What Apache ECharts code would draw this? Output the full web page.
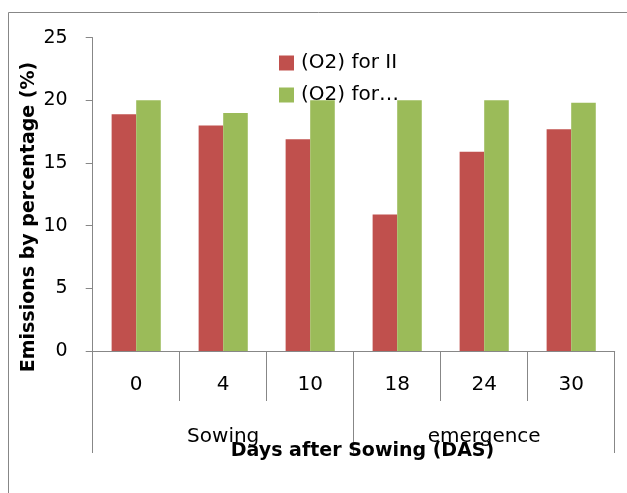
<!DOCTYPE html>
<html>
<head>
<meta charset="utf-8">
<script src="https://cdn.jsdelivr.net/npm/echarts@6/dist/echarts.min.js"></script>
<style>
html,body{margin:0;padding:0;background:#fff;}
#c{width:627px;height:493px;}
</style>
</head>
<body>
<div id="c"></div>
<script>
var categories = ['0', '4', '10', '18', '24', '30'];
var groups = ['Sowing', 'emergence'];
var seriesNames = ['(O2) for II', '(O2) for\u2026'];
var redValues = [18.9, 18.0, 16.9, 10.9, 15.9, 17.7];
var greenValues = [20.0, 19.0, 20.0, 20.0, 20.0, 19.8];
var yTicks = [0, 5, 10, 15, 20, 25];

var FONT = 'DejaVu Sans';
var GRAY = '#878787';
var chart = echarts.init(document.getElementById('c'), null, {renderer: 'canvas'});
chart.setOption({
  animation: false,
  backgroundColor: '#fff',
  grid: {left: 92.7, right: 12.3, top: 37.7, bottom: 142, containLabel: false},
  legend: {
    data: seriesNames,
    orient: 'vertical',
    left: 274, top: 48,
    icon: 'rect', itemWidth: 15, itemHeight: 15, itemGap: 12,
    textStyle: {fontFamily: FONT, fontSize: 20, color: '#000', padding: [0,0,0,2]},
    selectedMode: false
  },
  xAxis: [{
    type: 'category',
    data: categories,
    position: 'bottom',
    axisLine: {show: true, lineStyle: {color: GRAY, width: 1}},
    axisTick: {show: true, interval: 0, length: 50, lineStyle: {color: GRAY, width: 1}},
    axisLabel: {interval: 0, margin: 24, fontFamily: FONT, fontSize: 20, color: '#000'}
  }, {
    type: 'category',
    data: groups,
    position: 'bottom',
    axisLine: {show: false},
    axisTick: {show: true, interval: 0, length: 102, lineStyle: {color: GRAY, width: 1}},
    axisLabel: {interval: 0, margin: 76, fontFamily: FONT, fontSize: 20, color: '#000'}
  }],
  yAxis: {
    type: 'value', min: 0, max: 25, interval: 5,
    axisLine: {show: true, lineStyle: {color: GRAY, width: 1}},
    axisTick: {show: true, length: 7, lineStyle: {color: GRAY, width: 1}},
    splitLine: {show: false},
    axisLabel: {margin: 25, fontFamily: FONT, fontSize: 19, color: '#000',
      formatter: function (v) { return yTicks.indexOf(v) >= 0 ? String(v) : ''; }}
  },
  series: [{
    name: seriesNames[0], type: 'bar', data: redValues, xAxisIndex: 0,
    barGap: '0%', barCategoryGap: '43.5%',
    itemStyle: {color: '#C0504D'}
  }, {
    name: seriesNames[1], type: 'bar', data: greenValues, xAxisIndex: 0,
    itemStyle: {color: '#9BBB59'}
  }],
  graphic: [{
    type: 'rect', silent: true, z: -1,
    shape: {x: 8.5, y: 12.5, width: 700, height: 600},
    style: {fill: null, stroke: GRAY, lineWidth: 1}
  }, {
    type: 'text', silent: true,
    x: 29, y: 217, rotation: Math.PI / 2,
    style: {text: 'Emissions by percentage (%)', fontFamily: FONT, fontWeight: 'bold', fontSize: 19,
      fill: '#000', textAlign: 'center', textVerticalAlign: 'middle'}
  }, {
    type: 'text', silent: true, z: 100,
    x: 362.5, y: 451.5,
    style: {text: 'Days after Sowing (DAS)', fontFamily: FONT, fontWeight: 'bold', fontSize: 19,
      fill: '#000', textAlign: 'center', textVerticalAlign: 'middle'}
  }]
});
</script>
</body>
</html>
